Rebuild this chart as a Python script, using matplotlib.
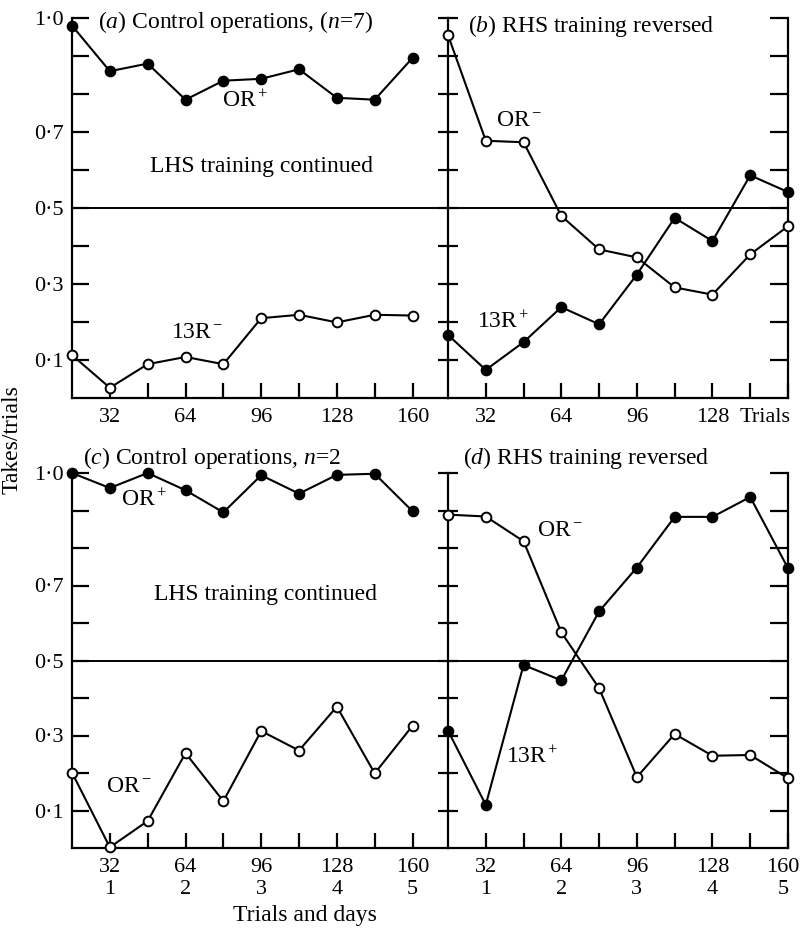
import numpy as np
import matplotlib
matplotlib.use('Agg')
import matplotlib.pyplot as plt
import matplotlib.transforms as mtransforms

plt.rcParams['font.family'] = ['Liberation Serif', 'DejaVu Serif']
plt.rcParams['mathtext.fontset'] = 'custom'
plt.rcParams['mathtext.rm'] = 'Liberation Serif'
plt.rcParams['mathtext.it'] = 'Liberation Serif:italic'

# trials (blocks of 16)
trials = [16, 32, 48, 64, 80, 96, 112, 128, 144, 160]

# (a) control operations, n=7
a_or_plus = [0.98, 0.86, 0.88, 0.785, 0.835, 0.84, 0.865, 0.79, 0.785, 0.895]
a_13r_minus = [0.113, 0.027, 0.089, 0.108, 0.089, 0.21, 0.219, 0.199, 0.219, 0.217]
# (b) RHS training reversed
b_or_minus = [0.955, 0.677, 0.673, 0.479, 0.391, 0.37, 0.291, 0.272, 0.378, 0.452]
b_13r_plus = [0.166, 0.074, 0.147, 0.239, 0.194, 0.325, 0.474, 0.413, 0.586, 0.542]
# (c) control operations, n=2
c_or_plus = [1.0, 0.96, 1.0, 0.954, 0.895, 0.994, 0.945, 0.995, 0.998, 0.898]
c_or_minus = [0.201, 0.002, 0.072, 0.253, 0.125, 0.312, 0.26, 0.377, 0.199, 0.326]
# (d) RHS training reversed
d_or_minus = [0.889, 0.884, 0.818, 0.575, 0.426, 0.189, 0.304, 0.246, 0.248, 0.186]
d_13r_plus = [0.313, 0.115, 0.488, 0.447, 0.631, 0.748, 0.883, 0.883, 0.936, 0.746]

ytick_vals = [0.1, 0.2, 0.3, 0.4, 0.5, 0.6, 0.7, 0.8, 0.9, 1.0]
ytick_labels = {0.1: '0·1', 0.3: '0·3', 0.5: '0·5', 0.7: '0·7', 1.0: '1·0'}
xtick_vals = [32, 48, 64, 80, 96, 112, 128, 144, 160]
trial_labels_a = {32: '32', 64: '64', 96: '96', 128: '128', 160: '160'}
trial_labels_b = {32: '32', 64: '64', 96: '96', 128: '128'}
day_labels = {32: '32\n1', 64: '64\n2', 96: '96\n3', 128: '128\n4', 160: '160\n5'}

W, H = 802, 933
fig = plt.figure(figsize=(W / 100, H / 100), dpi=100)

def px_ax(x0, y0, x1, y1):
    return fig.add_axes([x0 / W, 1 - y1 / H, (x1 - x0) / W, (y1 - y0) / H])

ax_a = px_ax(72, 18, 448, 398)
ax_b = px_ax(448, 18, 788, 398)
ax_c = px_ax(72, 473, 448, 848)
ax_d = px_ax(448, 473, 788, 848)

fs_tick = 16
fs_text = 17

def style(ax, right, xlab):
    ax.set_ylim(0, 1.0)
    ax.set_xlim(16, 160 if right else 175)
    ax.spines['top'].set_visible(False)
    for s in ax.spines.values():
        s.set_linewidth(1.6)
    ax.set_xticks(xtick_vals)
    ax.set_xticklabels([xlab.get(v, '') for v in xtick_vals], fontsize=fs_tick)
    ax.tick_params(axis='x', direction='in', length=11, width=1.6, pad=7)
    ax.set_yticks(ytick_vals)
    if right:
        ax.set_yticklabels([])
        ax.tick_params(axis='y', direction='inout', length=15, width=1.6,
                       right=True, left=True)
        ax.spines['right'].set_visible(True)
    else:
        ax.set_yticklabels([ytick_labels.get(v, '') for v in ytick_vals], fontsize=fs_tick)
        ax.tick_params(axis='y', direction='in', length=12, width=1.6, pad=6)
        ax.spines['right'].set_visible(False)
    ax.axhline(0.5, color='black', lw=1.4, zorder=1)

def series(ax, y, filled):
    ax.plot(trials, y, color='black', lw=1.5, marker='o', ms=7,
            mfc='black' if filled else 'white', mec='black', mew=1.4,
            clip_on=False, zorder=3)

style(ax_a, False, trial_labels_a)
style(ax_b, True, trial_labels_b)
style(ax_c, False, day_labels)
style(ax_d, True, day_labels)

series(ax_a, a_or_plus, True)
series(ax_a, a_13r_minus, False)
series(ax_b, b_or_minus, False)
series(ax_b, b_13r_plus, True)
series(ax_c, c_or_plus, True)
series(ax_c, c_or_minus, False)
series(ax_d, d_or_minus, False)
series(ax_d, d_13r_plus, True)

# inward ticks on right spine of b/d only
for ax in (ax_b, ax_d):
    for t in ax.yaxis.get_major_ticks():
        t.tick2line.set_marker(matplotlib.markers.TICKLEFT)
        t.tick2line.set_markersize(13)

# nudge last label of (d) so it stays inside the figure
last = ax_d.get_xticklabels()[-1]
last.set_transform(last.get_transform() + mtransforms.ScaledTranslation(-5 / 100, 0, fig.dpi_scale_trans))

# panel titles
ax_a.text(27, 0.99, r'($\it{a}$) Control operations, ($\it{n}$=7)', fontsize=fs_text, va='center')
ax_b.text(24.5, 0.98, r'($\it{b}$) RHS training reversed', fontsize=fs_text, va='center')
ax_c.text(20.5, 1.04, r'($\it{c}$) Control operations, $\it{n}$=2', fontsize=fs_text, va='center')
ax_d.text(22.5, 1.04, r'($\it{d}$) RHS training reversed', fontsize=fs_text, va='center')

# curve labels
ax_a.text(89, 0.78, r'OR$^+$', fontsize=fs_text, ha='center', va='center')
ax_a.text(96, 0.608, 'LHS training continued', fontsize=fs_text, ha='center', va='center')
ax_a.text(69, 0.172, r'13R$^-$', fontsize=fs_text, ha='center', va='center')
ax_b.text(46, 0.73, r'OR$^-$', fontsize=fs_text, ha='center', va='center')
ax_b.text(39.5, 0.2, r'13R$^+$', fontsize=fs_text, ha='center', va='center')
ax_b.text(161, -0.052, 'Trials', fontsize=fs_tick, ha='right', va='center')

ax_c.text(46.5, 0.928, r'OR$^+$', fontsize=fs_text, ha='center', va='center')
ax_c.text(98, 0.675, 'LHS training continued', fontsize=fs_text, ha='center', va='center')
ax_c.text(40, 0.163, r'OR$^-$', fontsize=fs_text, ha='center', va='center')
ax_d.text(63.5, 0.848, r'OR$^-$', fontsize=fs_text, ha='center', va='center')
ax_d.text(51.6, 0.243, r'13R$^+$', fontsize=fs_text, ha='center', va='center')

fig.text(12 / W, 1 - 440 / H, 'Takes/trials', rotation=90, fontsize=fs_text,
         ha='center', va='center')
fig.text(305 / W, 1 - 915 / H, 'Trials and days', fontsize=fs_text,
         ha='center', va='center')

fig.savefig('out.png', dpi=100)
